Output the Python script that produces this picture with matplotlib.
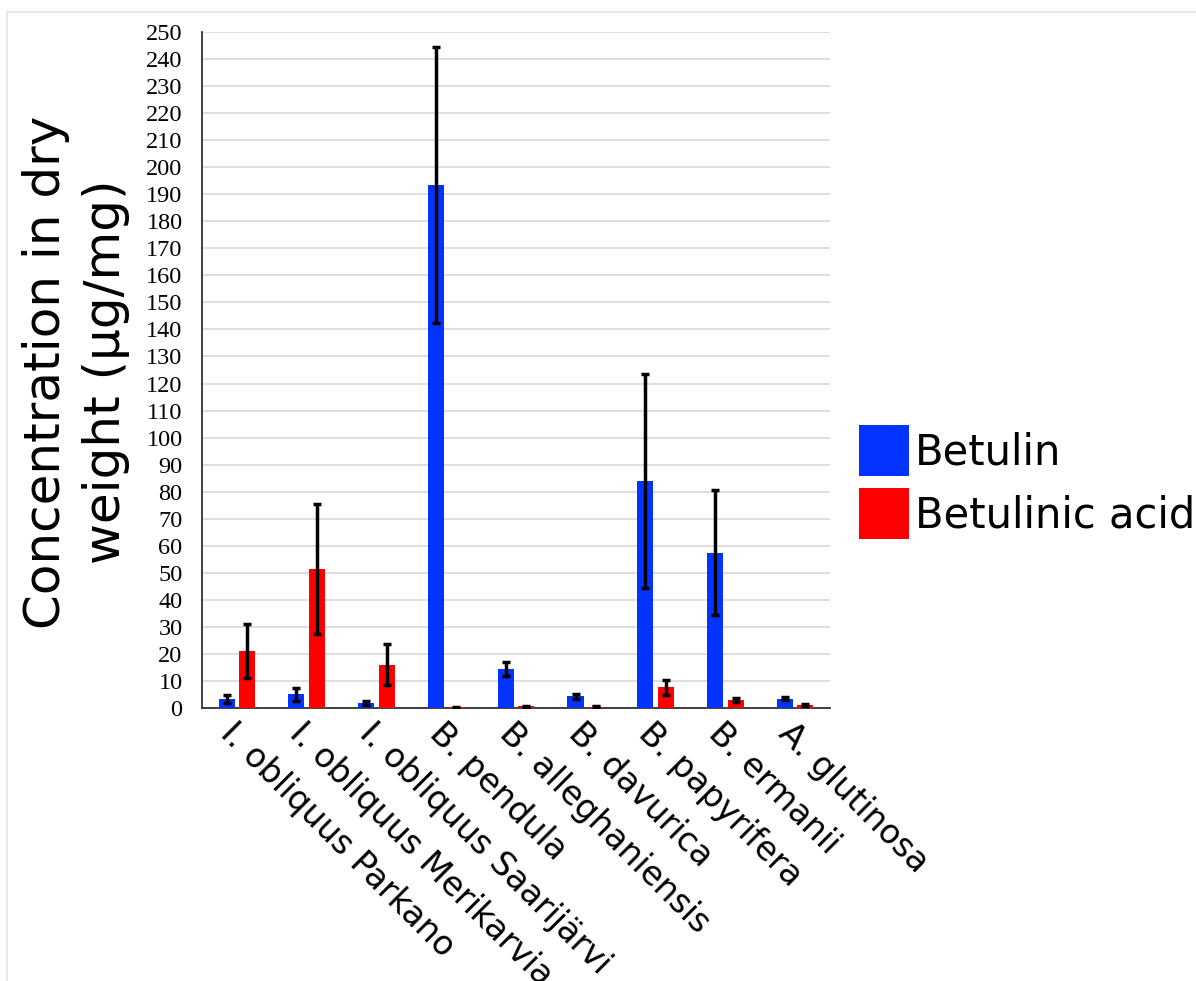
import matplotlib
matplotlib.use("Agg")
import matplotlib.pyplot as plt
import numpy as np
from matplotlib.patches import Rectangle

categories = ["I. obliquus Parkano", "I. obliquus Merikarvia", "I. obliquus Saarijärvi",
              "B. pendula", "B. alleghaniensis", "B. davurica", "B. papyrifera",
              "B. ermanii", "A. glutinosa"]
betulin = [3.3, 5.0, 1.8, 193.5, 14.5, 4.3, 84.0, 57.5, 3.5]
betulin_err = [1.5, 2.5, 0.7, 51.0, 2.5, 1.0, 39.5, 23.0, 0.6]
acid = [21.0, 51.5, 16.0, 0.2, 0.6, 0.5, 7.6, 3.0, 1.0]
acid_err = [10.0, 24.0, 7.5, 0.2, 0.2, 0.2, 2.8, 0.7, 0.4]
yticks = np.arange(0, 251, 10)

fig = plt.figure(figsize=(11.96, 9.81), dpi=100)
ax = fig.add_axes([202 / 1196, 1 - 708 / 981, 628 / 1196, 676 / 981])

# light frame around the figure area
fig.patches.append(Rectangle((7 / 1196, -0.05), 1.2, 1 - 12 / 981 + 0.05,
                             transform=fig.transFigure, fill=False,
                             edgecolor="#e3e3e3", linewidth=1.2))

x = np.arange(len(categories))
w = 0.23
off = 0.147
err_kw = dict(ecolor="black", elinewidth=2.5, capsize=3, capthick=2.5)
ax.bar(x - off, betulin, w, yerr=betulin_err, color="#0433FF", label="Betulin",
       error_kw=err_kw, zorder=3)
ax.bar(x + off, acid, w, yerr=acid_err, color="#FF0000", label="Betulinic acid",
       error_kw=err_kw, zorder=3)

ax.set_xlim(-0.5, len(categories) - 0.5)
ax.set_ylim(0, 250)
ax.set_yticks(yticks)
ax.yaxis.grid(True, color="#d9d9d9", linewidth=1.2, zorder=0)
ax.set_axisbelow(True)
for s in ["top", "right"]:
    ax.spines[s].set_visible(False)
ax.spines["left"].set_color("#333333")
ax.spines["bottom"].set_color("#333333")
ax.spines["left"].set_linewidth(1.3)
ax.spines["bottom"].set_linewidth(1.3)
ax.tick_params(axis="y", length=0, pad=14)
ax.tick_params(axis="x", length=0, pad=6)
for t in ax.get_yticklabels():
    t.set_fontfamily("Liberation Serif")
    t.set_fontsize(17.5)

ax.set_xticks(x)
ax.set_xticklabels(categories, rotation=-45, ha="left", va="top",
                   rotation_mode="anchor", fontsize=24, fontfamily="DejaVu Sans")

fig.text(0.0635, 1 - 372 / 981, "Concentration in dry\nweight (µg/mg)", rotation=90,
         ha="center", va="center", fontsize=36, fontfamily="DejaVu Sans",
         linespacing=1.3)

fig.legend(loc="center left", bbox_to_anchor=(838 / 1196, 1 - 482 / 981),
           frameon=False, fontsize=30, handlelength=1.2, handleheight=1.5,
           handletextpad=0.15, labelspacing=0.3, borderpad=0)

fig.savefig("out.png", dpi=100)
